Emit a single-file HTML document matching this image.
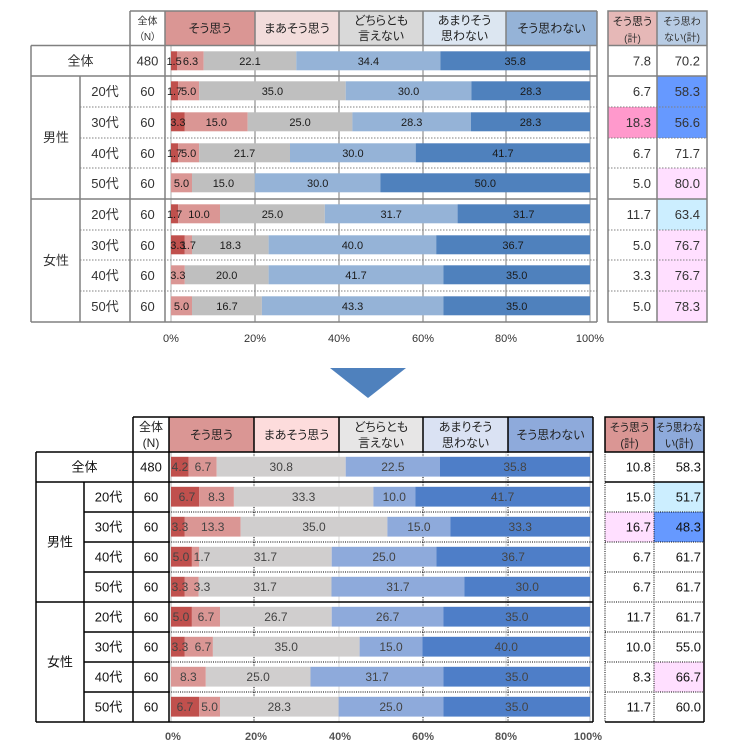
<!DOCTYPE html>
<html><head><meta charset="utf-8">
<style>
html,body{margin:0;padding:0;background:#fff;}
svg{display:block;}
text{font-family:"Liberation Sans","Noto Sans CJK JP",sans-serif;font-feature-settings:"palt";}
.h{font-size:12px;fill:#222;text-anchor:middle;}
.hr{font-size:11px;fill:#222;text-anchor:middle;}
.hs{font-size:10px;fill:#333;text-anchor:middle;}
.t{font-size:13px;fill:#333;text-anchor:middle;}
.tb{font-size:13px;fill:#111;text-anchor:middle;}
.r{font-size:13px;fill:#333;text-anchor:end;}
.rb{font-size:13px;fill:#111;text-anchor:end;}
.l1{font-size:11px;fill:#1a1a1a;text-anchor:middle;}
.l2{font-size:12px;fill:#444;text-anchor:middle;}
.ax{font-size:11px;fill:#333;text-anchor:middle;}
.ax2{font-size:11px;fill:#555;text-anchor:middle;font-weight:bold;}
</style></head>
<body>
<svg width="740" height="753" viewBox="0 0 740 753" xmlns="http://www.w3.org/2000/svg">
<rect width="740" height="753" fill="#fff"/>

<!-- ================= TOP CHART ================= -->
<rect x="165" y="11" width="90" height="34.5" fill="#da9694"/>
<rect x="255" y="11" width="84" height="34.5" fill="#f2dcdb"/>
<rect x="339" y="11" width="84" height="34.5" fill="#d9d9d9"/>
<rect x="423" y="11" width="83" height="34.5" fill="#dce6f1"/>
<rect x="506" y="11" width="91" height="34.5" fill="#95b3d7"/>
<rect x="608" y="11" width="49" height="34.5" fill="#e6b8b7"/>
<rect x="657" y="11" width="50" height="34.5" fill="#b8cce4"/>
<rect x="657" y="76" width="50" height="31" fill="#6699ff"/>
<rect x="608" y="107" width="49" height="31" fill="#ff99cc"/>
<rect x="657" y="107" width="50" height="31" fill="#6699ff"/>
<rect x="657" y="168" width="50" height="31" fill="#ffdfff"/>
<rect x="657" y="199" width="50" height="31" fill="#cceeff"/>
<rect x="657" y="230" width="50" height="92" fill="#ffdfff"/>

<g stroke="#a6a6a6" stroke-width="1.5">
<line x1="255" y1="45" x2="255" y2="322"/>
<line x1="339" y1="45" x2="339" y2="322"/>
<line x1="423" y1="45" x2="423" y2="322"/>
<line x1="506" y1="45" x2="506" y2="322"/>
</g>
<line x1="171" y1="45" x2="171" y2="322" stroke="#c8c8c8" stroke-width="1.5"/>
<line x1="590" y1="45" x2="590" y2="322" stroke="#c8c8c8" stroke-width="2"/>

<g>
<rect x="171" y="51.3" width="6.3" height="19" fill="#c0504d"/>
<rect x="177.3" y="51.3" width="26.4" height="19" fill="#da9694"/>
<rect x="203.7" y="51.3" width="92.6" height="19" fill="#bfbfbf"/>
<rect x="296.3" y="51.3" width="144.1" height="19" fill="#95b3d7"/>
<rect x="440.4" y="51.3" width="149.6" height="19" fill="#4f81bd"/>
<rect x="171" y="81.3" width="7.1" height="19" fill="#c0504d"/>
<rect x="178.1" y="81.3" width="21" height="19" fill="#da9694"/>
<rect x="199.1" y="81.3" width="146.6" height="19" fill="#bfbfbf"/>
<rect x="345.7" y="81.3" width="125.7" height="19" fill="#95b3d7"/>
<rect x="471.4" y="81.3" width="118.6" height="19" fill="#4f81bd"/>
<rect x="171" y="112.3" width="13.8" height="19" fill="#c0504d"/>
<rect x="184.8" y="112.3" width="62.9" height="19" fill="#da9694"/>
<rect x="247.7" y="112.3" width="104.7" height="19" fill="#bfbfbf"/>
<rect x="352.4" y="112.3" width="118.6" height="19" fill="#95b3d7"/>
<rect x="471" y="112.3" width="119" height="19" fill="#4f81bd"/>
<rect x="171" y="143.3" width="7.1" height="19" fill="#c0504d"/>
<rect x="178.1" y="143.3" width="21" height="19" fill="#da9694"/>
<rect x="199.1" y="143.3" width="90.9" height="19" fill="#bfbfbf"/>
<rect x="290" y="143.3" width="125.7" height="19" fill="#95b3d7"/>
<rect x="415.7" y="143.3" width="174.3" height="19" fill="#4f81bd"/>
<rect x="171" y="173.3" width="21" height="19" fill="#da9694"/>
<rect x="192" y="173.3" width="62.8" height="19" fill="#bfbfbf"/>
<rect x="254.8" y="173.3" width="125.7" height="19" fill="#95b3d7"/>
<rect x="380.5" y="173.3" width="209.5" height="19" fill="#4f81bd"/>
<rect x="171" y="204.3" width="7.1" height="19" fill="#c0504d"/>
<rect x="178.1" y="204.3" width="41.9" height="19" fill="#da9694"/>
<rect x="220" y="204.3" width="104.8" height="19" fill="#bfbfbf"/>
<rect x="324.8" y="204.3" width="132.8" height="19" fill="#95b3d7"/>
<rect x="457.6" y="204.3" width="132.4" height="19" fill="#4f81bd"/>
<rect x="171" y="235.3" width="13.8" height="19" fill="#c0504d"/>
<rect x="184.8" y="235.3" width="7.2" height="19" fill="#da9694"/>
<rect x="192" y="235.3" width="76.6" height="19" fill="#bfbfbf"/>
<rect x="268.6" y="235.3" width="167.6" height="19" fill="#95b3d7"/>
<rect x="436.2" y="235.3" width="153.8" height="19" fill="#4f81bd"/>
<rect x="171" y="265.3" width="13.8" height="19" fill="#da9694"/>
<rect x="184.8" y="265.3" width="83.8" height="19" fill="#bfbfbf"/>
<rect x="268.6" y="265.3" width="174.8" height="19" fill="#95b3d7"/>
<rect x="443.4" y="265.3" width="146.6" height="19" fill="#4f81bd"/>
<rect x="171" y="296.3" width="21" height="19" fill="#da9694"/>
<rect x="192" y="296.3" width="69.9" height="19" fill="#bfbfbf"/>
<rect x="261.9" y="296.3" width="181.5" height="19" fill="#95b3d7"/>
<rect x="443.4" y="296.3" width="146.6" height="19" fill="#4f81bd"/>
</g>

<g stroke="#808080" stroke-width="1.5" fill="none">
<line x1="130" y1="11" x2="597" y2="11"/>
<line x1="31" y1="45.5" x2="597" y2="45.5"/>
<line x1="31" y1="76" x2="597" y2="76"/>
<line x1="31" y1="199" x2="597" y2="199"/>
<line x1="31" y1="322" x2="597" y2="322"/>
<line x1="31" y1="45.5" x2="31" y2="322"/>
<line x1="80" y1="76" x2="80" y2="322"/>
<line x1="130" y1="11" x2="130" y2="322"/>
<line x1="165" y1="11" x2="165" y2="322"/>
<line x1="597" y1="11" x2="597" y2="322"/>
<line x1="255" y1="11" x2="255" y2="45"/>
<line x1="339" y1="11" x2="339" y2="45"/>
<line x1="423" y1="11" x2="423" y2="45"/>
<line x1="506" y1="11" x2="506" y2="45"/>
<rect x="608" y="11" width="99" height="311"/>
<line x1="657" y1="11" x2="657" y2="322"/>
<line x1="608" y1="45.5" x2="707" y2="45.5"/>
<line x1="608" y1="76" x2="707" y2="76"/>
<line x1="608" y1="199" x2="707" y2="199"/>
</g>
<g stroke="#808080" stroke-width="1" stroke-dasharray="1.5,1.5">
<line x1="80" y1="107" x2="597" y2="107"/>
<line x1="80" y1="138" x2="597" y2="138"/>
<line x1="80" y1="168" x2="597" y2="168"/>
<line x1="80" y1="230" x2="597" y2="230"/>
<line x1="80" y1="260" x2="597" y2="260"/>
<line x1="80" y1="291" x2="597" y2="291"/>
<line x1="608" y1="107" x2="707" y2="107"/>
<line x1="608" y1="138" x2="707" y2="138"/>
<line x1="608" y1="168" x2="707" y2="168"/>
<line x1="608" y1="230" x2="707" y2="230"/>
<line x1="608" y1="260" x2="707" y2="260"/>
<line x1="608" y1="291" x2="707" y2="291"/>
</g>

<text class="hs" x="147.5" y="24.5">全体</text>
<text class="hs" x="147.5" y="40">（N）</text>
<text class="h" x="210" y="32.5">そう思う</text>
<text class="h" x="297" y="32.5">まあそう思う</text>
<text class="h" x="381" y="24.5">どちらとも</text>
<text class="h" x="381" y="40">言えない</text>
<text class="h" x="464.5" y="24.5">あまりそう</text>
<text class="h" x="464.5" y="40">思わない</text>
<text class="h" x="551.5" y="32.5">そう思わない</text>
<text class="hr" x="632.5" y="25">そう思う</text>
<text class="hs" x="632.5" y="42">(計)</text>
<text class="hs" x="682" y="25">そう思わ</text>
<text class="hs" x="682" y="41">ない(計)</text>

<text class="t" x="80.5" y="65.5">全体</text>
<text class="t" x="147.5" y="65.5">480</text>
<text class="t" x="56" y="142">男性</text>
<text class="t" x="56" y="265">女性</text>
<text class="t" x="105" y="96">20代</text>
<text class="t" x="105" y="127">30代</text>
<text class="t" x="105" y="158">40代</text>
<text class="t" x="105" y="188">50代</text>
<text class="t" x="105" y="219">20代</text>
<text class="t" x="105" y="250">30代</text>
<text class="t" x="105" y="280">40代</text>
<text class="t" x="105" y="311">50代</text>
<text class="t" x="147.5" y="96">60</text>
<text class="t" x="147.5" y="127">60</text>
<text class="t" x="147.5" y="158">60</text>
<text class="t" x="147.5" y="188">60</text>
<text class="t" x="147.5" y="219">60</text>
<text class="t" x="147.5" y="250">60</text>
<text class="t" x="147.5" y="280">60</text>
<text class="t" x="147.5" y="311">60</text>

<text class="r" x="651" y="65.5">7.8</text><text class="r" x="700" y="65.5">70.2</text>
<text class="r" x="651" y="96">6.7</text><text class="r" x="700" y="96">58.3</text>
<text class="r" x="651" y="127">18.3</text><text class="r" x="700" y="127">56.6</text>
<text class="r" x="651" y="158">6.7</text><text class="r" x="700" y="158">71.7</text>
<text class="r" x="651" y="188">5.0</text><text class="r" x="700" y="188">80.0</text>
<text class="r" x="651" y="219">11.7</text><text class="r" x="700" y="219">63.4</text>
<text class="r" x="651" y="250">5.0</text><text class="r" x="700" y="250">76.7</text>
<text class="r" x="651" y="280">3.3</text><text class="r" x="700" y="280">76.7</text>
<text class="r" x="651" y="311">5.0</text><text class="r" x="700" y="311">78.3</text>

<g>
<text class="l1" x="174.1" y="64.8">1.5</text><text class="l1" x="190.5" y="64.8">6.3</text><text class="l1" x="250" y="64.8">22.1</text><text class="l1" x="368.4" y="64.8">34.4</text><text class="l1" x="515.2" y="64.8">35.8</text>
<text class="l1" x="174.6" y="94.8">1.7</text><text class="l1" x="188.6" y="94.8">5.0</text><text class="l1" x="272.4" y="94.8">35.0</text><text class="l1" x="408.6" y="94.8">30.0</text><text class="l1" x="530.7" y="94.8">28.3</text>
<text class="l1" x="177.9" y="125.8">3.3</text><text class="l1" x="216.3" y="125.8">15.0</text><text class="l1" x="300.1" y="125.8">25.0</text><text class="l1" x="411.7" y="125.8">28.3</text><text class="l1" x="530.5" y="125.8">28.3</text>
<text class="l1" x="174.6" y="156.8">1.7</text><text class="l1" x="188.6" y="156.8">5.0</text><text class="l1" x="244.6" y="156.8">21.7</text><text class="l1" x="352.9" y="156.8">30.0</text><text class="l1" x="502.9" y="156.8">41.7</text>
<text class="l1" x="181.5" y="186.8">5.0</text><text class="l1" x="223.4" y="186.8">15.0</text><text class="l1" x="317.7" y="186.8">30.0</text><text class="l1" x="485.3" y="186.8">50.0</text>
<text class="l1" x="174.6" y="217.8">1.7</text><text class="l1" x="199" y="217.8">10.0</text><text class="l1" x="272.4" y="217.8">25.0</text><text class="l1" x="391.2" y="217.8">31.7</text><text class="l1" x="523.8" y="217.8">31.7</text>
<text class="l1" x="177.9" y="248.8">3.3</text><text class="l1" x="188.4" y="248.8">1.7</text><text class="l1" x="230.3" y="248.8">18.3</text><text class="l1" x="352.4" y="248.8">40.0</text><text class="l1" x="513.1" y="248.8">36.7</text>
<text class="l1" x="177.9" y="278.8">3.3</text><text class="l1" x="226.7" y="278.8">20.0</text><text class="l1" x="356" y="278.8">41.7</text><text class="l1" x="516.7" y="278.8">35.0</text>
<text class="l1" x="181.5" y="309.8">5.0</text><text class="l1" x="227" y="309.8">16.7</text><text class="l1" x="352.6" y="309.8">43.3</text><text class="l1" x="516.7" y="309.8">35.0</text>
</g>

<text class="ax" x="171" y="342">0%</text>
<text class="ax" x="255" y="342">20%</text>
<text class="ax" x="339" y="342">40%</text>
<text class="ax" x="423" y="342">60%</text>
<text class="ax" x="506" y="342">80%</text>
<text class="ax" x="590" y="342">100%</text>

<polygon points="330,368 406,368 368,398" fill="#4f81bd"/>

<!-- ================= BOTTOM CHART ================= -->
<rect x="169" y="417" width="85" height="35" fill="#da9694"/>
<rect x="254" y="417" width="85" height="35" fill="#fddcdc"/>
<rect x="339" y="417" width="84" height="35" fill="#e7e6e6"/>
<rect x="423" y="417" width="85" height="35" fill="#dae2f3"/>
<rect x="508" y="417" width="85" height="35" fill="#8eaadb"/>
<rect x="605" y="417" width="49" height="35" fill="#da9694"/>
<rect x="654" y="417" width="50" height="35" fill="#8eaadb"/>
<rect x="654" y="482" width="50" height="30" fill="#cceeff"/>
<rect x="605" y="512" width="49" height="30" fill="#ffdfff"/>
<rect x="654" y="512" width="50" height="30" fill="#6699ff"/>
<rect x="654" y="662" width="50" height="30" fill="#ffdfff"/>

<g stroke="#d9d9d9" stroke-width="1">
<line x1="254" y1="452" x2="254" y2="722"/>
<line x1="339" y1="452" x2="339" y2="722"/>
<line x1="423" y1="452" x2="423" y2="722"/>
<line x1="506" y1="452" x2="506" y2="722"/>
<line x1="171" y1="452" x2="171" y2="722" stroke="#cfcfcf" stroke-width="1.5"/>
<line x1="590" y1="452" x2="590" y2="722" stroke="#cfcfcf" stroke-width="1.5"/>
</g>
<g stroke="#000" stroke-width="1" stroke-dasharray="1,1.5">
<line x1="254" y1="452" x2="254" y2="722"/>
<line x1="423" y1="452" x2="423" y2="722"/>
<line x1="508" y1="452" x2="508" y2="722"/>
</g>

<g>
<rect x="171" y="456.8" width="17.6" height="19.8" fill="#c0504d"/>
<rect x="188.6" y="456.8" width="28.1" height="19.8" fill="#da9694"/>
<rect x="216.7" y="456.8" width="129" height="19.8" fill="#d0cece"/>
<rect x="345.7" y="456.8" width="94.3" height="19.8" fill="#8eaadb"/>
<rect x="440" y="456.8" width="150" height="19.8" fill="#4e7ec8"/>
<rect x="171" y="486.8" width="28.1" height="19.8" fill="#c0504d"/>
<rect x="199.1" y="486.8" width="34.8" height="19.8" fill="#da9694"/>
<rect x="233.9" y="486.8" width="139.5" height="19.8" fill="#d0cece"/>
<rect x="373.4" y="486.8" width="41.9" height="19.8" fill="#8eaadb"/>
<rect x="415.3" y="486.8" width="174.7" height="19.8" fill="#4e7ec8"/>
<rect x="171" y="516.8" width="13.8" height="19.8" fill="#c0504d"/>
<rect x="184.8" y="516.8" width="55.8" height="19.8" fill="#da9694"/>
<rect x="240.6" y="516.8" width="146.8" height="19.8" fill="#d0cece"/>
<rect x="387.4" y="516.8" width="62.9" height="19.8" fill="#8eaadb"/>
<rect x="450.3" y="516.8" width="139.7" height="19.8" fill="#4e7ec8"/>
<rect x="171" y="546.8" width="20.9" height="19.8" fill="#c0504d"/>
<rect x="191.9" y="546.8" width="7.1" height="19.8" fill="#da9694"/>
<rect x="199" y="546.8" width="132.7" height="19.8" fill="#d0cece"/>
<rect x="331.7" y="546.8" width="104.7" height="19.8" fill="#8eaadb"/>
<rect x="436.4" y="546.8" width="153.6" height="19.8" fill="#4e7ec8"/>
<rect x="171" y="576.8" width="13.8" height="19.8" fill="#c0504d"/>
<rect x="184.8" y="576.8" width="13.9" height="19.8" fill="#da9694"/>
<rect x="198.7" y="576.8" width="132.8" height="19.8" fill="#d0cece"/>
<rect x="331.5" y="576.8" width="132.8" height="19.8" fill="#8eaadb"/>
<rect x="464.3" y="576.8" width="125.7" height="19.8" fill="#4e7ec8"/>
<rect x="171" y="606.8" width="20.9" height="19.8" fill="#c0504d"/>
<rect x="191.9" y="606.8" width="28.1" height="19.8" fill="#da9694"/>
<rect x="220" y="606.8" width="111.7" height="19.8" fill="#d0cece"/>
<rect x="331.7" y="606.8" width="111.8" height="19.8" fill="#8eaadb"/>
<rect x="443.5" y="606.8" width="146.5" height="19.8" fill="#4e7ec8"/>
<rect x="171" y="636.8" width="13.8" height="19.8" fill="#c0504d"/>
<rect x="184.8" y="636.8" width="28.1" height="19.8" fill="#da9694"/>
<rect x="212.9" y="636.8" width="146.7" height="19.8" fill="#d0cece"/>
<rect x="359.6" y="636.8" width="62.8" height="19.8" fill="#8eaadb"/>
<rect x="422.4" y="636.8" width="167.6" height="19.8" fill="#4e7ec8"/>
<rect x="171" y="666.8" width="34.8" height="19.8" fill="#da9694"/>
<rect x="205.8" y="666.8" width="104.7" height="19.8" fill="#d0cece"/>
<rect x="310.5" y="666.8" width="132.9" height="19.8" fill="#8eaadb"/>
<rect x="443.4" y="666.8" width="146.6" height="19.8" fill="#4e7ec8"/>
<rect x="171" y="696.8" width="28.1" height="19.8" fill="#c0504d"/>
<rect x="199.1" y="696.8" width="20.9" height="19.8" fill="#da9694"/>
<rect x="220" y="696.8" width="118.6" height="19.8" fill="#d0cece"/>
<rect x="338.6" y="696.8" width="104.8" height="19.8" fill="#8eaadb"/>
<rect x="443.4" y="696.8" width="146.6" height="19.8" fill="#4e7ec8"/>
</g>

<g stroke="#000" stroke-width="1.5" fill="none">
<line x1="133" y1="417" x2="593" y2="417"/>
<line x1="36" y1="452" x2="593" y2="452"/>
<line x1="36" y1="482" x2="593" y2="482"/>
<line x1="36" y1="602" x2="593" y2="602"/>
<line x1="36" y1="722" x2="593" y2="722"/>
<line x1="36" y1="452" x2="36" y2="722"/>
<line x1="84" y1="482" x2="84" y2="722"/>
<line x1="133" y1="417" x2="133" y2="722"/>
<line x1="169" y1="417" x2="169" y2="722"/>
<line x1="593" y1="417" x2="593" y2="722"/>
<line x1="254" y1="417" x2="254" y2="452"/>
<line x1="339" y1="417" x2="339" y2="452"/>
<line x1="423" y1="417" x2="423" y2="452"/>
<line x1="508" y1="417" x2="508" y2="452"/>
<line x1="84" y1="512" x2="169" y2="512"/>
<line x1="84" y1="542" x2="169" y2="542"/>
<line x1="84" y1="572" x2="169" y2="572"/>
<line x1="84" y1="632" x2="169" y2="632"/>
<line x1="84" y1="662" x2="169" y2="662"/>
<line x1="84" y1="692" x2="169" y2="692"/>
<rect x="605" y="417" width="99" height="35"/>
<line x1="654" y1="417" x2="654" y2="452"/>
<line x1="704" y1="452" x2="704" y2="722"/>
<line x1="605" y1="722" x2="704" y2="722"/>
<line x1="605" y1="482" x2="704" y2="482"/>
</g>
<g stroke="#000" stroke-width="1" stroke-dasharray="1,1.2">
<line x1="169" y1="512" x2="593" y2="512"/>
<line x1="169" y1="542" x2="593" y2="542"/>
<line x1="169" y1="572" x2="593" y2="572"/>
<line x1="169" y1="632" x2="593" y2="632"/>
<line x1="169" y1="662" x2="593" y2="662"/>
<line x1="169" y1="692" x2="593" y2="692"/>
<line x1="605" y1="452" x2="605" y2="722"/>
<line x1="654" y1="452" x2="654" y2="722"/>
<line x1="605" y1="512" x2="704" y2="512"/>
<line x1="605" y1="542" x2="704" y2="542"/>
<line x1="605" y1="572" x2="704" y2="572"/>
<line x1="605" y1="602" x2="704" y2="602"/>
<line x1="605" y1="632" x2="704" y2="632"/>
<line x1="605" y1="662" x2="704" y2="662"/>
<line x1="605" y1="692" x2="704" y2="692"/>
</g>

<text class="h" x="151" y="431">全体</text>
<text class="h" x="151" y="447">(N)</text>
<text class="h" x="211.5" y="439">そう思う</text>
<text class="h" x="296.5" y="439">まあそう思う</text>
<text class="h" x="381" y="431">どちらとも</text>
<text class="h" x="381" y="447">言えない</text>
<text class="h" x="465.5" y="431">あまりそう</text>
<text class="h" x="465.5" y="447">思わない</text>
<text class="h" x="550.5" y="439">そう思わない</text>
<text class="hr" x="629.5" y="431">そう思う</text>
<text class="hr" x="629.5" y="447">(計)</text>
<text class="hr" x="679" y="431" textLength="46" lengthAdjust="spacingAndGlyphs">そう思わな</text>
<text class="hr" x="679" y="447">い(計)</text>

<text class="tb" x="84.5" y="471.5">全体</text>
<text class="tb" x="151" y="471.5">480</text>
<text class="tb" x="60" y="546.5">男性</text>
<text class="tb" x="60" y="666.5">女性</text>
<text class="tb" x="108.5" y="501.5">20代</text>
<text class="tb" x="108.5" y="531.5">30代</text>
<text class="tb" x="108.5" y="561.5">40代</text>
<text class="tb" x="108.5" y="591.5">50代</text>
<text class="tb" x="108.5" y="621.5">20代</text>
<text class="tb" x="108.5" y="651.5">30代</text>
<text class="tb" x="108.5" y="681.5">40代</text>
<text class="tb" x="108.5" y="711.5">50代</text>
<text class="tb" x="151" y="501.5">60</text>
<text class="tb" x="151" y="531.5">60</text>
<text class="tb" x="151" y="561.5">60</text>
<text class="tb" x="151" y="591.5">60</text>
<text class="tb" x="151" y="621.5">60</text>
<text class="tb" x="151" y="651.5">60</text>
<text class="tb" x="151" y="681.5">60</text>
<text class="tb" x="151" y="711.5">60</text>

<text class="rb" x="651" y="471.5">10.8</text><text class="rb" x="701" y="471.5">58.3</text>
<text class="rb" x="651" y="501.5">15.0</text><text class="rb" x="701" y="501.5">51.7</text>
<text class="rb" x="651" y="531.5">16.7</text><text class="rb" x="701" y="531.5">48.3</text>
<text class="rb" x="651" y="561.5">6.7</text><text class="rb" x="701" y="561.5">61.7</text>
<text class="rb" x="651" y="591.5">6.7</text><text class="rb" x="701" y="591.5">61.7</text>
<text class="rb" x="651" y="621.5">11.7</text><text class="rb" x="701" y="621.5">61.7</text>
<text class="rb" x="651" y="651.5">10.0</text><text class="rb" x="701" y="651.5">55.0</text>
<text class="rb" x="651" y="681.5">8.3</text><text class="rb" x="701" y="681.5">66.7</text>
<text class="rb" x="651" y="711.5">11.7</text><text class="rb" x="701" y="711.5">60.0</text>

<g>
<text class="l2" x="180" y="471">4.2</text><text class="l2" x="203" y="471">6.7</text><text class="l2" x="281.2" y="471">30.8</text><text class="l2" x="392.9" y="471">22.5</text><text class="l2" x="515" y="471">35.8</text>
<text class="l2" x="187" y="501">6.7</text><text class="l2" x="216.5" y="501">8.3</text><text class="l2" x="303.6" y="501">33.3</text><text class="l2" x="394.3" y="501">10.0</text><text class="l2" x="502.6" y="501">41.7</text>
<text class="l2" x="180" y="531">3.3</text><text class="l2" x="212.7" y="531">13.3</text><text class="l2" x="314" y="531">35.0</text><text class="l2" x="418.9" y="531">15.0</text><text class="l2" x="520.2" y="531">33.3</text>
<text class="l2" x="181" y="561">5.0</text><text class="l2" x="202" y="561">1.7</text><text class="l2" x="265.4" y="561">31.7</text><text class="l2" x="384" y="561">25.0</text><text class="l2" x="513.2" y="561">36.7</text>
<text class="l2" x="180" y="591">3.3</text><text class="l2" x="202" y="591">3.3</text><text class="l2" x="265.1" y="591">31.7</text><text class="l2" x="397.9" y="591">31.7</text><text class="l2" x="527.2" y="591">30.0</text>
<text class="l2" x="181" y="621">5.0</text><text class="l2" x="206" y="621">6.7</text><text class="l2" x="275.9" y="621">26.7</text><text class="l2" x="387.6" y="621">26.7</text><text class="l2" x="516.8" y="621">35.0</text>
<text class="l2" x="180" y="651">3.3</text><text class="l2" x="203" y="651">6.7</text><text class="l2" x="286.2" y="651">35.0</text><text class="l2" x="391" y="651">15.0</text><text class="l2" x="506.2" y="651">40.0</text>
<text class="l2" x="188.4" y="681">8.3</text><text class="l2" x="258.1" y="681">25.0</text><text class="l2" x="377" y="681">31.7</text><text class="l2" x="516.7" y="681">35.0</text>
<text class="l2" x="185" y="711">6.7</text><text class="l2" x="209.6" y="711">5.0</text><text class="l2" x="279.3" y="711">28.3</text><text class="l2" x="391" y="711">25.0</text><text class="l2" x="516.7" y="711">35.0</text>
</g>

<text class="ax2" x="173" y="740">0%</text>
<text class="ax2" x="256" y="740">20%</text>
<text class="ax2" x="340" y="740">40%</text>
<text class="ax2" x="423" y="740">60%</text>
<text class="ax2" x="506" y="740">80%</text>
<text class="ax2" x="588" y="740">100%</text>
</svg>
</body></html>
